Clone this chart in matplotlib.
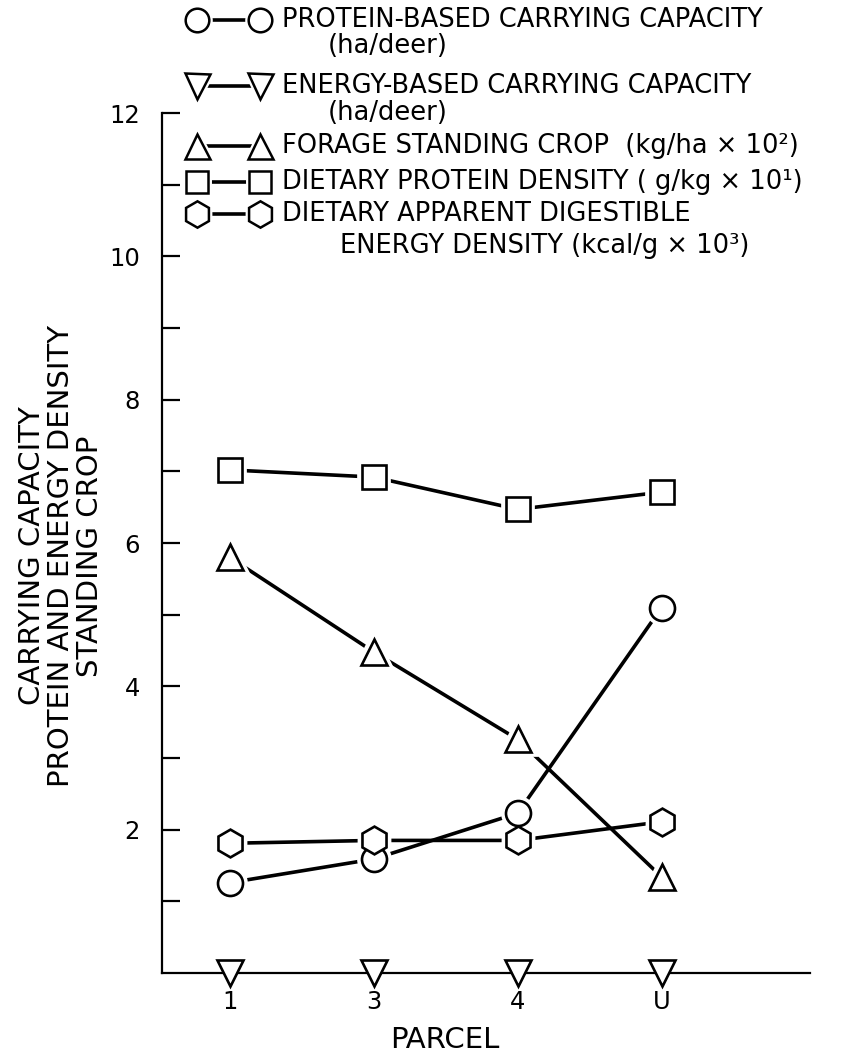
import matplotlib
matplotlib.use("Agg")
import matplotlib.pyplot as plt

# ---- data ----
parcels = ["1", "3", "4", "U"]
protein_cc = [1.26, 1.59, 2.23, 5.10]        # circles
energy_cc = [0.0, 0.0, 0.0, 0.0]             # inverted triangles
standing_crop = [5.80, 4.48, 3.26, 1.34]     # triangles
protein_density = [7.02, 6.92, 6.47, 6.71]   # squares
energy_density = [1.81, 1.85, 1.85, 2.11]    # hexagons

# (values, marker, markersize, draw connecting line)
series = [
    (protein_cc, "o", 18, True),
    (energy_cc, "v", 19, False),
    (standing_crop, "^", 19, True),
    (protein_density, "s", 17, True),
    (energy_density, "h", 20, True),
]

legend_rows = [
    ("o", 17, "PROTEIN-BASED CARRYING CAPACITY", "(ha/deer)"),
    ("v", 18, "ENERGY-BASED CARRYING CAPACITY", "(ha/deer)"),
    ("^", 18, "FORAGE STANDING CROP  (kg/ha × 10²)", None),
    ("s", 16, "DIETARY PROTEIN DENSITY ( g/kg × 10¹)", None),
    ("h", 19, "DIETARY APPARENT DIGESTIBLE", "ENERGY DENSITY (kcal/g × 10³)"),
]

W, H = 849, 1063
fig = plt.figure(figsize=(W / 100, H / 100), dpi=100)
plt.rcParams['font.family'] = ['DejaVu Sans']

left, right, bottom, top = 162, 810, 973, 113
ax = fig.add_axes([left / W, 1 - bottom / H, (right - left) / W, (bottom - top) / H])

x = list(range(1, len(parcels) + 1))
lw = 2.6
for vals, m, ms, line in series:
    if line:
        ax.plot(x, vals, color="black", lw=lw, zorder=2, clip_on=False)
for vals, m, ms, line in series:
    if line:
        ax.plot(x, vals, ls="none", marker=m, ms=ms, mfc="white", mec="white",
                mew=7, zorder=3, clip_on=False)
for vals, m, ms, line in series:
    ax.plot(x, vals, ls="none", marker=m, ms=ms, mfc="white", mec="black",
            mew=1.9, zorder=4, clip_on=False)

ax.set_xlim(0.53, 5.03)
ax.set_ylim(0, 12)
ax.set_xticks(x)
ax.set_xticklabels(parcels)
ax.set_yticks([2, 4, 6, 8, 10, 12])
ax.set_yticks([1, 3, 5, 7, 9, 11], minor=True)
ax.tick_params(axis="y", which="both", direction="in", length=13, width=1.6,
               labelsize=17.5, pad=16)
ax.tick_params(axis="x", which="both", length=0, labelsize=17.5, pad=12)
for s in ("top", "right"):
    ax.spines[s].set_visible(False)
for s in ("left", "bottom"):
    ax.spines[s].set_linewidth(1.6)
ax.patch.set_alpha(0)

# axis labels
fig.text(61 / W, 1 - 556 / H,
         "CARRYING CAPACITY\nPROTEIN AND ENERGY DENSITY\nSTANDING CROP",
         rotation=90, ha="center", va="center", multialignment="center",
         fontsize=21, linespacing=1.03)
fig.text(445 / W, 1 - 1040 / H, "PARCEL", ha="center", va="center", fontsize=21)

# legend overlay
lg = fig.add_axes([0, 0, 1, 1])
lg.set_xlim(0, W)
lg.set_ylim(H, 0)
lg.axis("off")
row_y = [20, 86, 146, 182, 214]
sub_y = [46, 113, None, None, 246]
sub_x = [328, 328, None, None, 340]
m1, m2, tx = 197, 260, 282
for (m, ms, t1, t2), y, sy, sx in zip(legend_rows, row_y, sub_y, sub_x):
    lg.plot([m1, m2], [y, y], color="black", lw=lw, zorder=2)
    lg.plot([m1, m2], [y, y], ls="none", marker=m, ms=ms, mfc="white",
            mec="white", mew=5, zorder=3)
    lg.plot([m1, m2], [y, y], ls="none", marker=m, ms=ms, mfc="white",
            mec="black", mew=1.8, zorder=4)
    lg.text(tx, y, t1, ha="left", va="center", fontsize=18.5)
    if t2:
        lg.text(sx, sy, t2, ha="left", va="center", fontsize=18.5)

fig.savefig("out.png", dpi=100)
